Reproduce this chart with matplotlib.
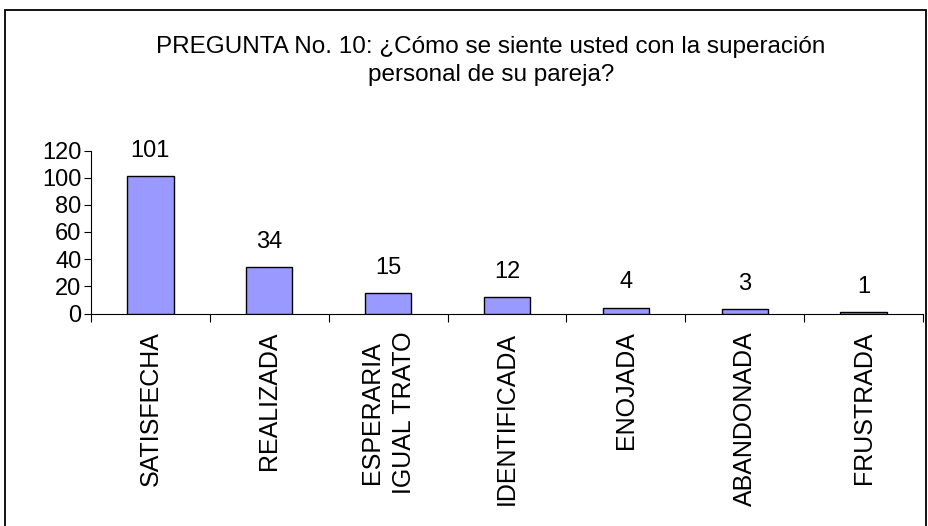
import numpy as np
import matplotlib.pyplot as plt
from matplotlib.patches import Rectangle

plt.rcParams['font.family'] = ['Liberation Sans', 'DejaVu Sans']

categories = ['SATISFECHA', 'REALIZADA', 'ESPERARIA\nIGUAL TRATO', 'IDENTIFICADA',
              'ENOJADA', 'ABANDONADA', 'FRUSTRADA']
counts = [101, 34, 15, 12, 4, 3, 1]
title = 'PREGUNTA No. 10: ¿Cómo se siente usted con la superación\npersonal de su pareja?'

W, H = 929, 526
fig = plt.figure(figsize=(W / 100, H / 100), dpi=100)

# outer chart border (bottom edge falls outside the picture)
fig.patches.append(Rectangle((5 / W, -0.05), 921 / W, 1.05 - 10 / H,
                             transform=fig.transFigure, fill=False,
                             edgecolor='black', linewidth=1.3))

ax = fig.add_axes([91 / W, 1 - 313.5 / H, (923 - 91) / W, (313.5 - 150.5) / H])
x = np.arange(len(categories))
bars = ax.bar(x, counts, 0.39, color='#9999ff', edgecolor='black', linewidth=1.0, zorder=3)

for rect, v in zip(bars, counts):
    ax.annotate(str(v), (rect.get_x() + rect.get_width() / 2, rect.get_height()),
                xytext=(0, 10.5), textcoords='offset points',
                ha='center', va='bottom', fontsize=17)

ax.set_xlim(-0.5, len(categories) - 0.5)
ax.set_ylim(0, 120)
ax.set_yticks(np.arange(0, 121, 20))
ax.tick_params(axis='y', labelsize=17, length=5, width=0.8, pad=2)

ax.set_xticks(x)
ax.set_xticklabels(categories, rotation=90, fontsize=18, linespacing=1.4,
                   ha='center', multialignment='center')
ax.set_xticks(np.arange(-0.5, len(categories), 1), minor=True)
ax.tick_params(axis='x', which='major', length=0, pad=13)
ax.tick_params(axis='x', which='minor', length=6, width=0.8)

for s in ['top', 'right']:
    ax.spines[s].set_visible(False)
for s in ['left', 'bottom']:
    ax.spines[s].set_linewidth(0.8)

fig.text(491 / W, 1 - 61 / H, title, ha='center', va='center', fontsize=17.5, linespacing=1.36)

fig.savefig('out.png', dpi=100)
